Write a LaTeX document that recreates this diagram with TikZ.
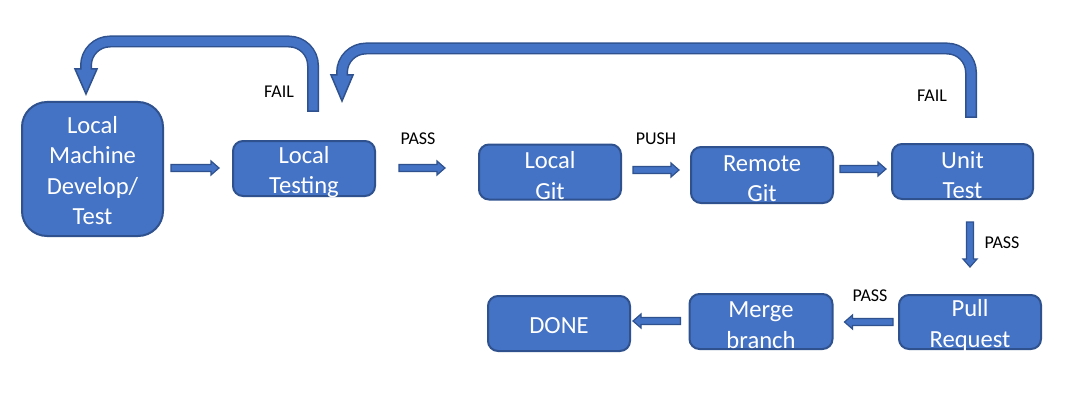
\documentclass[tikz,border=0pt]{standalone}
\usepackage{fontspec}
\setmainfont{Carlito}
\usetikzlibrary{calc}
\definecolor{boxfill}{HTML}{4472C4}
\definecolor{boxline}{HTML}{2F528F}
\tikzset{
  box/.style={draw=boxline, fill=boxfill, line width=2pt, rounded corners=10pt, inner sep=0pt},
  boxtext/.style={text=white, align=center, inner sep=0pt, yshift=-3.5pt,
    font=\fontsize{24.6}{30.6}\selectfont},
  lbl/.style={text=black, inner sep=0pt, font=\fontsize{18}{20}\selectfont},
  arrowbody/.style={fill=boxfill, draw=boxline, line width=1.2pt, line join=miter},
  bigout/.style={line width=12pt, draw=boxline, rounded corners=24pt},
  bigin/.style={line width=9pt, draw=boxfill, rounded corners=24pt, shorten <=1.5pt},
  bighead/.style={fill=boxfill, draw=boxline, line width=1.5pt, line join=miter}
}
\newcommand\blockarr[2]{%
  \coordinate (ba-s) at (#1);
  \coordinate (ba-t) at (#2);
  \coordinate (ba-h) at ($(ba-t)!8pt!(ba-s)$);
  \filldraw[arrowbody] ($(ba-s)!3.5pt!90:(ba-t)$) -- ($(ba-h)!3.5pt!-90:(ba-s)$)
    -- ($(ba-h)!7pt!-90:(ba-s)$) -- (ba-t) -- ($(ba-h)!7pt!90:(ba-s)$)
    -- ($(ba-h)!3.5pt!90:(ba-s)$) -- ($(ba-s)!3.5pt!-90:(ba-t)$) -- cycle;
}
\begin{document}
\begin{tikzpicture}[x=1pt, y=-1pt]
\useasboundingbox[fill=white] (0,0) rectangle (1075,417);

% boxes
\node[box, rounded corners=25pt, minimum width=141pt, minimum height=134pt,
  label={[boxtext, yshift=2pt]center:{Local\\Machine\\Develop/\\Test}}] (lm) at (92.5,169) {};
\node[box, minimum width=142pt, minimum height=55pt,
  label={[boxtext]center:{Local\\Testing}}] (lt) at (304,168.5) {};
\node[box, minimum width=142pt, minimum height=55pt,
  label={[boxtext]center:{Local\\Git}}] (lg) at (550,172) {};
\node[box, minimum width=142pt, minimum height=56pt,
  label={[boxtext]center:{Remote\\Git}}] (rg) at (762,175) {};
\node[box, minimum width=141pt, minimum height=55pt,
  label={[boxtext]center:{Unit\\Test}}] (ut) at (962.5,171.5) {};
\node[box, minimum width=142pt, minimum height=54pt,
  label={[boxtext]center:{Pull\\Request}}] (pr) at (970,322) {};
\node[box, minimum width=143pt, minimum height=55pt,
  label={[boxtext]center:{Merge\\branch}}] (mb) at (761,321.5) {};
\node[box, minimum width=142pt, minimum height=55pt,
  label={[boxtext, yshift=1.5pt]center:{DONE}}] (dn) at (559,323.5) {};

% small block arrows
\blockarr{$(lm.east)+(7,-1)$}{$(lt.west)+(-13,-0.5)$}
\blockarr{$(lt.east)+(23,-0.5)$}{$(lg.west)+(-33,-4)$}
\blockarr{$(lg.east)+(11,-2)$}{$(rg.west)+(-11,-5)$}
\blockarr{$(rg.east)+(6,-6)$}{$(ut.west)+(-5,-2.5)$}
\blockarr{$(ut.south)+(7.5,22)$}{$(pr.north)+(0,-27)$}
\blockarr{$(pr.west)+(-5,0)$}{$(mb.east)+(11,0.5)$}
\blockarr{$(mb.west)+(-8,-0.5)$}{$(dn.east)+(2,-2.5)$}

% big FAIL arrow: Local Testing -> Local Machine
\coordinate (f1s) at ($(lt.north)+(9,-28)$);
\coordinate (f1t) at ($(lm.north)+(-6.5,-7)$);
\coordinate (f1b) at ($(f1t)+(0,-25)$);
\coordinate (f1y) at (0,41.5);
\draw[bigout] (f1s) -- (f1s |- f1y) -- (f1t |- f1y) -- (f1b);
\filldraw[bighead] ($(f1b)+(-11,0)$) -- (f1t) -- ($(f1b)+(11,0)$) -- cycle;
\draw[bigin] (f1s) -- (f1s |- f1y) -- (f1t |- f1y) -- ($(f1b)+(0,1.5)$);

% big FAIL arrow: Unit Test -> Local Testing
\coordinate (f2s) at ($(ut.north)+(8.5,-25)$);
\coordinate (f2t) at ($(lt.north)+(38,-39)$);
\coordinate (f2b) at ($(f2t)+(0,-26)$);
\coordinate (f2y) at (0,48.5);
\draw[bigout] (f2s) -- (f2s |- f2y) -- (f2t |- f2y) -- (f2b);
\filldraw[bighead] ($(f2b)+(-11,0)$) -- (f2t) -- ($(f2b)+(11,0)$) -- cycle;
\draw[bigin] (f2s) -- (f2s |- f2y) -- (f2t |- f2y) -- ($(f2b)+(0,1.5)$);

% labels
\node[lbl] (l1) at (279,92) {FAIL};
\node[lbl] (l2) at (418,139) {PASS};
\node[lbl] (l3) at (656,139) {PUSH};
\node[lbl] (l4) at (932,96) {FAIL};
\node[lbl] (l5) at (1002,243) {PASS};
\node[lbl] (l6) at (870,296) {PASS};
\end{tikzpicture}
\end{document}
